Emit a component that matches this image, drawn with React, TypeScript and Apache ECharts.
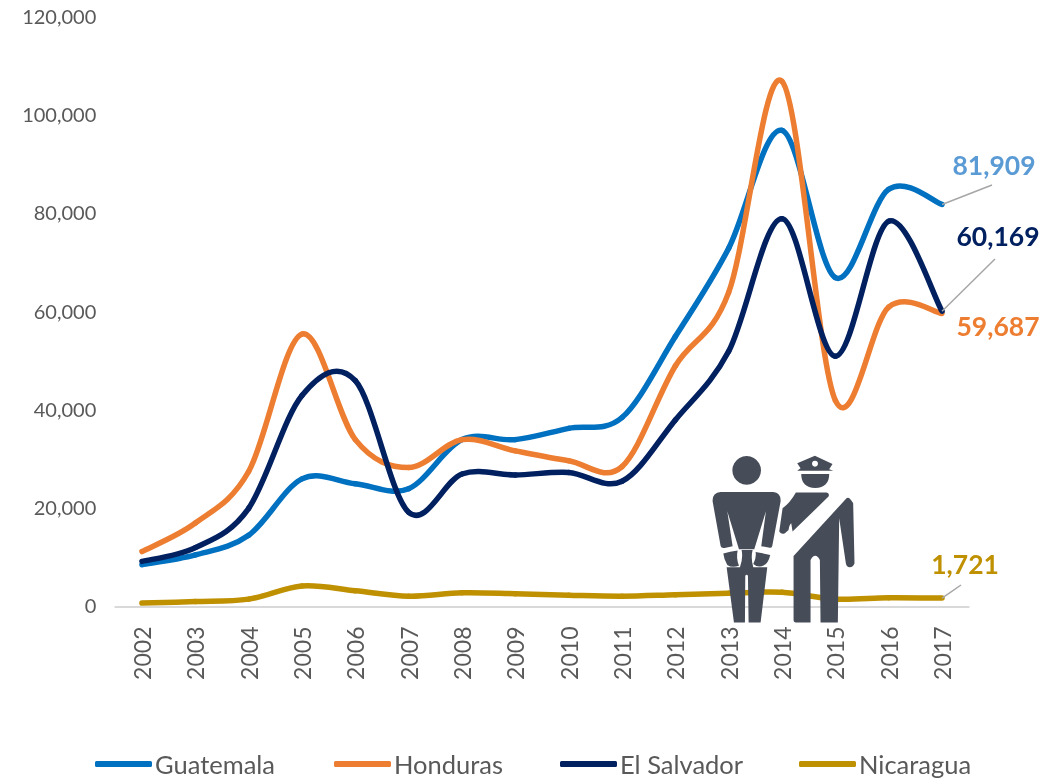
import React, { useEffect, useRef } from "react";
import * as echarts from "echarts";

const years = ["2002","2003","2004","2005","2006","2007","2008","2009","2010","2011","2012","2013","2014","2015","2016","2017"];
const guatemala = [8500,10500,14500,26000,25000,24000,34000,34000,36300,38500,55000,73000,97000,67000,85000,81909];
const honduras = [11200,17000,27500,55500,34000,28300,34000,31700,29700,28500,49000,64000,107000,42000,61000,59687];
const elSalvador = [9200,12000,20000,43000,46000,19200,27000,26800,27300,25500,38000,52000,79000,51000,78500,60169];
const nicaragua = [700,1000,1500,4200,3200,2100,2800,2600,2300,2100,2400,2700,2900,1500,1800,1721];

const F = "Lato";
const ICON = "#464c58";

const shapes: Record<string, string> = {
  prisonerBody: "M92,156 L250,156 Q274,158 272,185 L247,318 Q245,326 236,323 L214,319 L228,214 L193,328 L147,328 L112,214 L128,319 L104,324 Q94,326 92,318 L68,185 Q66,158 92,156 Z",
  prisonerHandL: "M100,341 Q120,335 143,332 Q138,355 147,378 Q125,385 112,375 Q102,360 100,341 Z",
  prisonerHandR: "M197,336 L241,345 Q235,370 222,376 Q205,385 190,372 Q200,355 197,336 Z",
  prisonerLegs: "M155,330 L188,330 Q182,355 190,382 L232,382 L212,548 L176,548 L174,408 Q170,402 166,408 L165,548 L132,548 L110,382 L150,382 Q160,355 155,330 Z",
  officerCap: "M375,47 L428,72 L418,88 L430,92 L322,92 L332,85 L322,70 Z",
  officerFace: "M334,102 L418,102 Q418,143 376,144 Q334,143 334,102 Z",
  officerArm: "M318,158 L410,158 Q420,160 416,170 L308,275 L304,250 Q298,255 296,270 L285,280 Q275,285 268,275 L278,205 Q300,190 318,158 Z",
  officerBody: "M470,175 Q478,168 490,190 L494,370 Q490,382 480,382 Q470,382 468,370 L448,235 L444,548 L392,548 L390,360 Q376,335 362,360 L362,548 L318,548 Q311,548 311,540 L311,348 Z",
};
Object.entries(shapes).forEach(([k, d]) => {
  echarts.graphic.registerShape(k, echarts.graphic.extendPath(d, {}) as any);
});

function line(name: string, data: number[], color: string, labelColor: string, offset: [number, number], leader: [number, number] | null) {
  const last = data[data.length - 1];
  const n = data.length;
  return {
    name, type: "custom", coordinateSystem: "cartesian2d", data: data.map((v, i) => [i, v]),
    encode: { x: 0, y: 1 }, clip: false,
    itemStyle: { color },
    lineStyle: { color, width: 5.5 },
    renderItem: (params: any, api: any) => {
      const i = params.dataIndex;
      if (i >= n - 1) return null;
      const pt = (k: number) => api.coord([Math.max(0, Math.min(n - 1, k)), data[Math.max(0, Math.min(n - 1, k))]]);
      const [p0, p1, p2, p3] = [pt(i - 1), pt(i), pt(i + 1), pt(i + 2)];
      return {
        type: "bezierCurve",
        shape: {
          x1: p1[0], y1: p1[1], x2: p2[0], y2: p2[1],
          cpx1: p1[0] + (p2[0] - p0[0]) / 6, cpy1: p1[1] + (p2[1] - p0[1]) / 6,
          cpx2: p2[0] - (p3[0] - p1[0]) / 6, cpy2: p2[1] - (p3[1] - p1[1]) / 6,
        },
        style: { stroke: color, lineWidth: 5.5, fill: "none", lineCap: "round" },
      };
    },
    markPoint: {
      silent: true, symbol: "circle", symbolSize: 0,
      label: {
        show: true, position: "inside", offset, color: labelColor, fontFamily: F, fontWeight: "bold", fontSize: 26.5,
        formatter: () => last.toLocaleString("en-US"),
      },
      data: [{ coord: [n - 1, last] }],
    },
    markLine: leader ? {
      silent: true, symbol: "none", animation: false, label: { show: false },
      lineStyle: { color: "#a6a6a6", width: 1.5, type: "solid" },
      data: [[{ coord: [n - 1, last] }, { x: leader[0], y: leader[1] }]],
    } : undefined,
  };
}

function legend(name: string, left: number, color: string) {
  return {
    data: [{ name, icon: "roundRect", itemStyle: { color } }], left, top: 751, itemWidth: 57, itemHeight: 6, itemGap: 3, padding: 0,
    textStyle: { color: "#595959", fontFamily: F, fontSize: 25.5, padding: [0, 0, 0, -2] },
  };
}

export default function App() {
  const ref = useRef<HTMLDivElement>(null);
  useEffect(() => {
    const chart = echarts.init(ref.current!, undefined, { renderer: "svg" });
    const icon = (shape: string) => ({ type: shape, x: 690, y: 440, scaleX: 1 / 3, scaleY: 1 / 3, z: 100, style: { fill: ICON } });
    chart.setOption({
      animation: false,
      grid: { left: 115.3, right: 92.3, top: 17.5, bottom: 172.5, containLabel: false },
      legend: [
        legend("Guatemala", 95, "#0070c0"),
        legend("Honduras", 334, "#ed7d31"),
        legend("El Salvador", 560, "#002060"),
        legend("Nicaragua", 799, "#bf9000"),
      ],
      xAxis: {
        type: "category", data: years, boundaryGap: true,
        axisLine: { lineStyle: { color: "#d9d9d9", width: 2 } }, axisTick: { show: false },
        axisLabel: { rotate: 90, color: "#595959", fontFamily: F, fontSize: 23, margin: 20, interval: 0 },
      },
      yAxis: {
        type: "value", min: 0, max: 120000, interval: 20000,
        axisLine: { show: false }, axisTick: { show: false }, splitLine: { show: false },
        axisLabel: { color: "#595959", fontFamily: F, fontSize: 20, margin: 19, verticalAlign: "bottom", lineHeight: 3, formatter: (v: number) => v.toLocaleString("en-US") },
      },
      series: [
        line("Guatemala", guatemala, "#0070c0", "#5b9bd5", [52, -39], [992, 185]),
        line("Honduras", honduras, "#ed7d31", "#ed7d31", [56, 12], null),
        line("El Salvador", elSalvador, "#002060", "#002060", [56, -75], [995, 259]),
        line("Nicaragua", nicaragua, "#bf9000", "#bf9000", [23, -34], [961, 585]),
      ],
      graphic: [
        ...Object.keys(shapes).map(icon),
        { type: "circle", x: 690 + 170 / 3, y: 440 + 91 / 3, shape: { r: 43 / 3 }, z: 100, style: { fill: ICON } },
        { type: "circle", x: 690 + 375 / 3, y: 440 + 71 / 3, shape: { r: 3 }, z: 101, style: { fill: "#fff" } },
      ],
    });
    return () => chart.dispose();
  }, []);
  return <div ref={ref} style={{ position: "fixed", left: 0, top: 0, width: 1061, height: 779 }} />;
}
